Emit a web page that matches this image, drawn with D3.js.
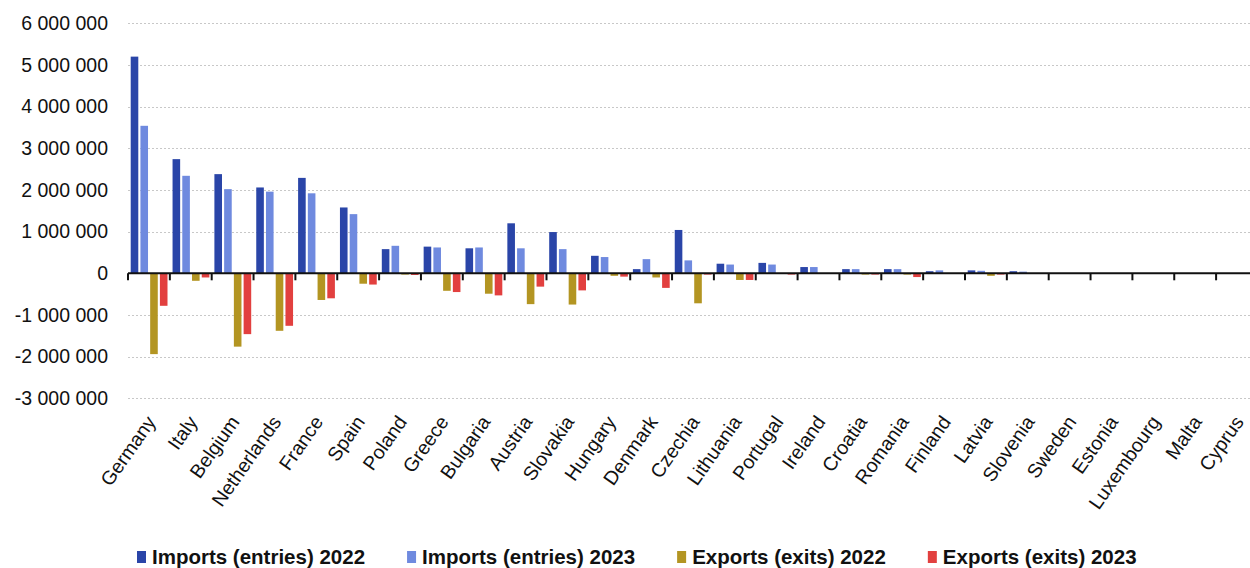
<!DOCTYPE html>
<html lang="en">
<head>
    <meta charset="UTF-8">
    <title>imports-exports</title>
    <script src="https://cdn.jsdelivr.net/npm/d3@7"></script>
    <style>
        body { margin:0; background:#fff; }
        .chart text { font-family: "Liberation Sans", Arial, sans-serif; fill:#111; }
        .grid line { stroke:#c8c8c8; stroke-width:1px; stroke-dasharray:2,2; }
        .ylab text { font-size:19.5px; }
        .xlab text { font-size:19.5px; }
        .legend text { font-size:20.5px; font-weight:bold; }
    </style>
</head>
<body>
    <div class="chart"></div>
    <script>
        // data
        var countries = ["Germany","Italy","Belgium","Netherlands","France","Spain","Poland","Greece","Bulgaria","Austria",
                         "Slovakia","Hungary","Denmark","Czechia","Lithuania","Portugal","Ireland","Croatia","Romania","Finland",
                         "Latvia","Slovenia","Sweden","Estonia","Luxembourg","Malta","Cyprus"];
        var imports2022 = [5200000,2740000,2380000,2060000,2290000,1580000,580000,640000,600000,1200000,
                           990000,420000,100000,1040000,230000,250000,150000,100000,100000,50000,
                           70000,50000,0,0,0,0,0];
        var imports2023 = [3540000,2340000,2020000,1960000,1920000,1420000,660000,620000,620000,600000,
                           580000,390000,340000,310000,210000,210000,150000,100000,100000,70000,
                           60000,40000,0,0,0,0,0];
        var exports2022 = [-1940000,-180000,-1760000,-1380000,-640000,-250000,-30000,-420000,-490000,-740000,
                           -750000,-60000,-100000,-720000,-160000,-10000,-10000,-30000,-30000,-10000,
                           -60000,-10000,0,0,0,0,0];
        var exports2023 = [-780000,-100000,-1460000,-1260000,-600000,-270000,-40000,-450000,-530000,-320000,
                           -410000,-80000,-350000,-30000,-160000,-30000,-10000,-30000,-90000,-10000,
                           -30000,-10000,0,0,0,0,0];
        var seriesNames = ["Imports (entries) 2022","Imports (entries) 2023","Exports (exits) 2022","Exports (exits) 2023"];
        var seriesColors = ["#2a45a8","#6f8adf","#b39522","#e2403f"];
        var yTicks = [-3000000,-2000000,-1000000,0,1000000,2000000,3000000,4000000,5000000,6000000];

        var allSeries = [imports2022, imports2023, exports2022, exports2023];

        var W = 1250, H = 568;
        var svg = d3.select(".chart").append("svg").attr("width",W).attr("height",H);

        var x = d3.scaleBand().domain(countries).range([128, 128 + 27*41.85]);
        var x1 = d3.scaleBand().domain(seriesNames).range([2.7, 39.5]).paddingInner(0.22);
        var y = d3.scaleLinear().domain([-3000000, 6000000]).range([398.3, 23.3]);

        var loc = d3.formatLocale({decimal:".", thousands:" ", grouping:[3], currency:["",""], minus:"-"});
        var fmt = loc.format(",");

        // gridlines
        svg.append("g").attr("class","grid")
            .selectAll("line").data(yTicks.filter(d => d !== 0)).enter()
            .append("line")
            .attr("x1",128).attr("x2",W)
            .attr("y1",d => Math.round(y(d))+0.5).attr("y2",d => Math.round(y(d))+0.5);

        // y labels
        var yAxis = svg.append("g").attr("class","ylab")
            .attr("transform","translate(128,0)")
            .call(d3.axisLeft(y).tickValues(yTicks).tickFormat(fmt).tickSize(0).tickPadding(20));
        yAxis.select(".domain").remove();

        // bars
        var groups = svg.append("g").selectAll("g").data(countries).enter()
            .append("g").attr("transform", d => "translate(" + x(d) + ",0)");
        groups.selectAll("rect")
            .data((c, i) => allSeries.map((s, k) => ({name: seriesNames[k], v: s[i], k: k})))
            .enter().append("rect")
            .attr("x", d => x1(d.name))
            .attr("width", x1.bandwidth())
            .attr("y", d => y(Math.max(0, d.v)))
            .attr("height", d => Math.abs(y(d.v) - y(0)))
            .attr("fill", d => seriesColors[d.k]);

        // zero axis with tick marks at category borders
        var zeroY = y(0);
        svg.append("line").attr("x1",128).attr("x2",W).attr("y1",zeroY).attr("y2",zeroY)
            .attr("stroke","#111").attr("stroke-width",2);
        svg.append("g").selectAll("line").data(d3.range(28)).enter().append("line")
            .attr("x1", i => 128 + i*41.85).attr("x2", i => 128 + i*41.85)
            .attr("y1", zeroY).attr("y2", zeroY + 7)
            .attr("stroke","#111").attr("stroke-width",2);

        // x labels
        svg.append("g").attr("class","xlab").selectAll("text").data(countries).enter()
            .append("text")
            .attr("text-anchor","end")
            .attr("dy","0.35em")
            .attr("transform", d => "translate(" + (x(d) + x.bandwidth()/2 + 2) + ",418) rotate(-55)")
            .text(d => d);

        // legend
        var legend = svg.append("g").attr("class","legend");
        var lx = 137;
        seriesNames.forEach(function(name, k){
            legend.append("rect").attr("x",lx).attr("y",551).attr("width",9).attr("height",12)
                .attr("fill",seriesColors[k]);
            var t = legend.append("text").attr("x",lx+15).attr("y",563.5).text(name);
            lx = lx + 15 + t.node().getComputedTextLength() + 42;
        });
    </script>
</body>
</html>
